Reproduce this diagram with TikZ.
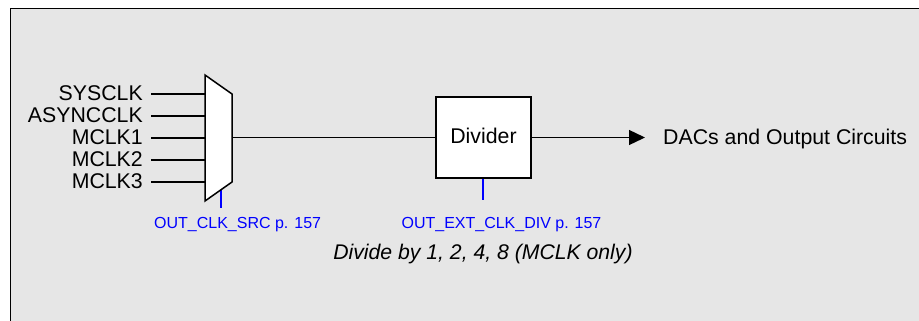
\documentclass[tikz,border=0pt]{standalone}
\usepackage{fontspec}
\setmainfont{Liberation Sans}
\usetikzlibrary{arrows.meta,calc}
\definecolor{bgray}{RGB}{230,230,230}
\definecolor{refblue}{RGB}{0,0,255}
\begin{document}
\begin{tikzpicture}[x=1pt,y=-1pt,
  lbl/.style={font=\fontsize{21.3}{23}\selectfont, inner sep=0pt},
  wire/.style={line width=1.3pt},
  thick box/.style={draw, line width=1.5pt, fill=white},
  ctl/.style={draw=refblue, line width=2pt},
  ctllbl/.style={text=refblue, font=\fontsize{16}{17}\selectfont, inner sep=0pt},
  note/.style={font=\fontsize{21.2}{23}\selectfont\itshape, inner sep=0pt},
]
\useasboundingbox (0,0) rectangle (919,321);
\fill[white] (0,0) rectangle (919,321);
\begin{scope}
  \clip (0,0) rectangle (919,321);
  \draw[fill=bgray, line width=1.5pt] (10.5,8.5) rectangle (940,340);
\end{scope}

% multiplexer
\coordinate (m1) at (205,75);
\coordinate (m2) at (232,94);
\coordinate (m3) at (232,182);
\coordinate (m4) at (205,201);

% control ticks (drawn first so the mux edge covers their top)
\coordinate (mt) at (221,188);
\coordinate (mtb) at (221,208);
\draw[ctl] (mt) -- (mtb);

\draw[thick box] (m1) -- (m2) -- (m3) -- (m4) -- cycle;

% inputs
\foreach \name/\txt/\y in {i1/SYSCLK/94, i2/ASYNCCLK/116, i3/MCLK1/138, i4/MCLK2/160, i5/MCLK3/182}{
  \node[lbl, anchor=base east] (\name) at (143,\y+6.5) {\txt};
  \coordinate (\name w) at (151,\y);
  \draw[wire] (\name w) -- (\name w -| m1);
}

% divider
\coordinate (mout) at (232,137.5);
\node[thick box, minimum width=95pt, minimum height=81pt, inner sep=0pt] (div) at (483.5,137.5) {};
\node[lbl, anchor=base] (divt) at (483.5,143.5) {Divider};
\draw[wire] (mout) -- (div.west);

% output
\node[lbl, anchor=base west] (dest) at (663,144) {DACs and Output Circuits};
\coordinate (tip) at (645,137.5);
\draw[wire, -{Triangle[length=16pt,width=15pt]}] (div.east) -- (tip);

\node[ctllbl, anchor=base west] (msrc) at (154,228.3) {OUT\_CLK\_SRC p. 157};

\coordinate (dtop) at (483,178.8);
\coordinate (dtb) at (483,200);
\draw[ctl] (dtop) -- (dtb);
\node[ctllbl, anchor=base] (dsrc) at (501.5,228.3) {OUT\_EXT\_CLK\_DIV p. 157};

\node[note, anchor=base] (dnote) at (483,259.5) {Divide by 1, 2, 4, 8 (MCLK only)};
\end{tikzpicture}
\end{document}
